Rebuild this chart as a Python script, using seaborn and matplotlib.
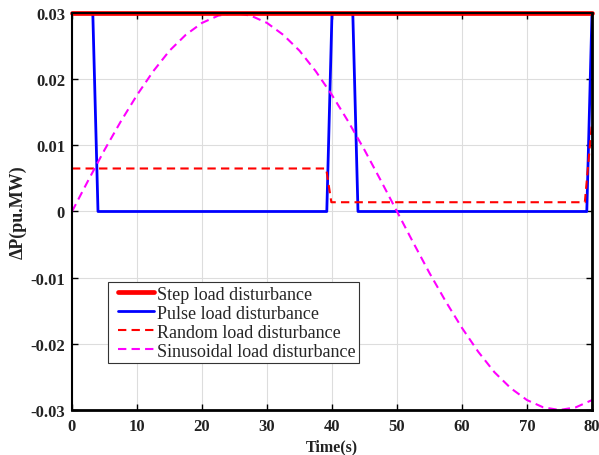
import matplotlib
matplotlib.use("Agg")
import matplotlib.pyplot as plt
from matplotlib.legend_handler import HandlerLine2D
import seaborn as sns

# ---- data ----
step_t = [0, 80]
step_v = [0.03, 0.03]

pulse_t = [0, 3.2, 4.0, 39.2, 40.0, 43.2, 44.0, 79.2, 80.0]
pulse_v = [0.03, 0.03, 0.0, 0.0, 0.03, 0.03, 0.0, 0.0, 0.03]

random_t = [0, 39.1, 39.9, 78.9, 80.0]
random_v = [0.0065, 0.0065, 0.0014, 0.0014, 0.0135]

sin_t = [0, 2.5, 5, 7.5, 10, 12.5, 15, 17.5, 20, 22.5, 25, 27.5, 30, 32.5, 35,
         37.5, 40, 42.5, 45, 47.5, 50, 52.5, 55, 57.5, 60, 62.5, 65, 67.5, 70,
         72.5, 75, 77.5, 80]
sin_v = [0, 0.0047, 0.0093, 0.0136, 0.0176, 0.0212, 0.0243, 0.0267, 0.0285,
         0.0296, 0.0300, 0.0296, 0.0285, 0.0267, 0.0243, 0.0212, 0.0176, 0.0136,
         0.0093, 0.0047, 0.0, -0.0047, -0.0093, -0.0136, -0.0176, -0.0212,
         -0.0243, -0.0267, -0.0285, -0.0296, -0.0300, -0.0296, -0.0285]

labels = ["Step load disturbance", "Pulse load disturbance",
          "Random load disturbance", "Sinusoidal load disturbance"]
xticks = [0, 10, 20, 30, 40, 50, 60, 70, 80]
yticks = [-0.03, -0.02, -0.01, 0, 0.01, 0.02, 0.03]
ytick_labels = ["-0.03", "-0.02", "-0.01", "0", "0.01", "0.02", "0.03"]

sns.set_theme(style="ticks")
plt.rcParams["font.family"] = ["Liberation Serif", "DejaVu Serif"]


class ShiftedLine(HandlerLine2D):
    shift = 4.5

    def create_artists(self, legend, orig_handle, xdescent, ydescent,
                       width, height, fontsize, trans):
        return super().create_artists(legend, orig_handle,
                                      xdescent - self.shift, ydescent,
                                      width - self.shift, height, fontsize,
                                      trans)


fig = plt.figure(figsize=(5.99, 4.56), dpi=100)
ax = fig.add_axes([0.1202, 0.0987, 0.8681, 0.8706])

ax.grid(True, color="#dddddd", linewidth=0.8, zorder=0)

sns.lineplot(x=pulse_t, y=pulse_v, ax=ax, color="#0000ff", linewidth=2.0,
             sort=False, estimator=None, label=labels[1], zorder=3)
sns.lineplot(x=random_t, y=random_v, ax=ax, color="#ff0000", linewidth=1.5,
             sort=False, estimator=None, label=labels[2], zorder=3)
sns.lineplot(x=sin_t, y=sin_v, ax=ax, color="#ff00ff", linewidth=1.5,
             sort=False, estimator=None, label=labels[3], zorder=3)
sns.lineplot(x=step_t, y=step_v, ax=ax, color="#ff0000", linewidth=3.4,
             sort=False, estimator=None, label=labels[0], zorder=4)

lines = ax.get_lines()
lines[1].set_dashes((4, 2.5))
lines[2].set_dashes((4, 2.5))
lines[3].set_clip_on(False)

ax.set_xlim(0, 80)
ax.set_ylim(-0.03, 0.03)
ax.set_xticks(xticks)
ax.set_xticklabels([str(t) for t in xticks])
ax.set_yticks(yticks)
ax.set_yticklabels(ytick_labels)
ax.tick_params(direction="in", top=True, right=True, length=4, width=1,
               labelsize=12, colors="black")
ax.tick_params(axis="x", pad=6)
ax.tick_params(axis="y", pad=5)
for lab in ax.get_xticklabels() + ax.get_yticklabels():
    lab.set_fontweight("bold")
    lab.set_color("#222222")

for name, s in ax.spines.items():
    s.set_visible(True)
    s.set_color("black")
    s.set_linewidth(2.0 if name in ("bottom", "right") else 1.5)
    s.set_zorder(5)

ax.set_xlabel("Time(s)", fontsize=11.5, fontweight="bold", va="center",
              color="#222222")
ax.xaxis.set_label_coords(0.5, -0.0907)
ax.set_ylabel("ΔP(pu.MW)", fontsize=13, fontweight="bold", va="center",
              color="#222222")
ax.yaxis.set_label_coords(-0.1038, 0.5)

handles, labs = ax.get_legend_handles_labels()
order = [labs.index(l) for l in labels]
leg = ax.legend([handles[i] for i in order], [labs[i] for i in order],
                loc="upper left", bbox_to_anchor=(0.069, 0.322),
                borderaxespad=0, fontsize=13, frameon=True, fancybox=False,
                edgecolor="#333333", framealpha=1, handlelength=2.35,
                handletextpad=0.15, labelspacing=0.11, borderpad=0.2,
                handler_map={h: ShiftedLine() for h in handles})
leg.get_frame().set_linewidth(0.8)
leg.set_zorder(6)

fig.savefig("out.png", dpi=100)
